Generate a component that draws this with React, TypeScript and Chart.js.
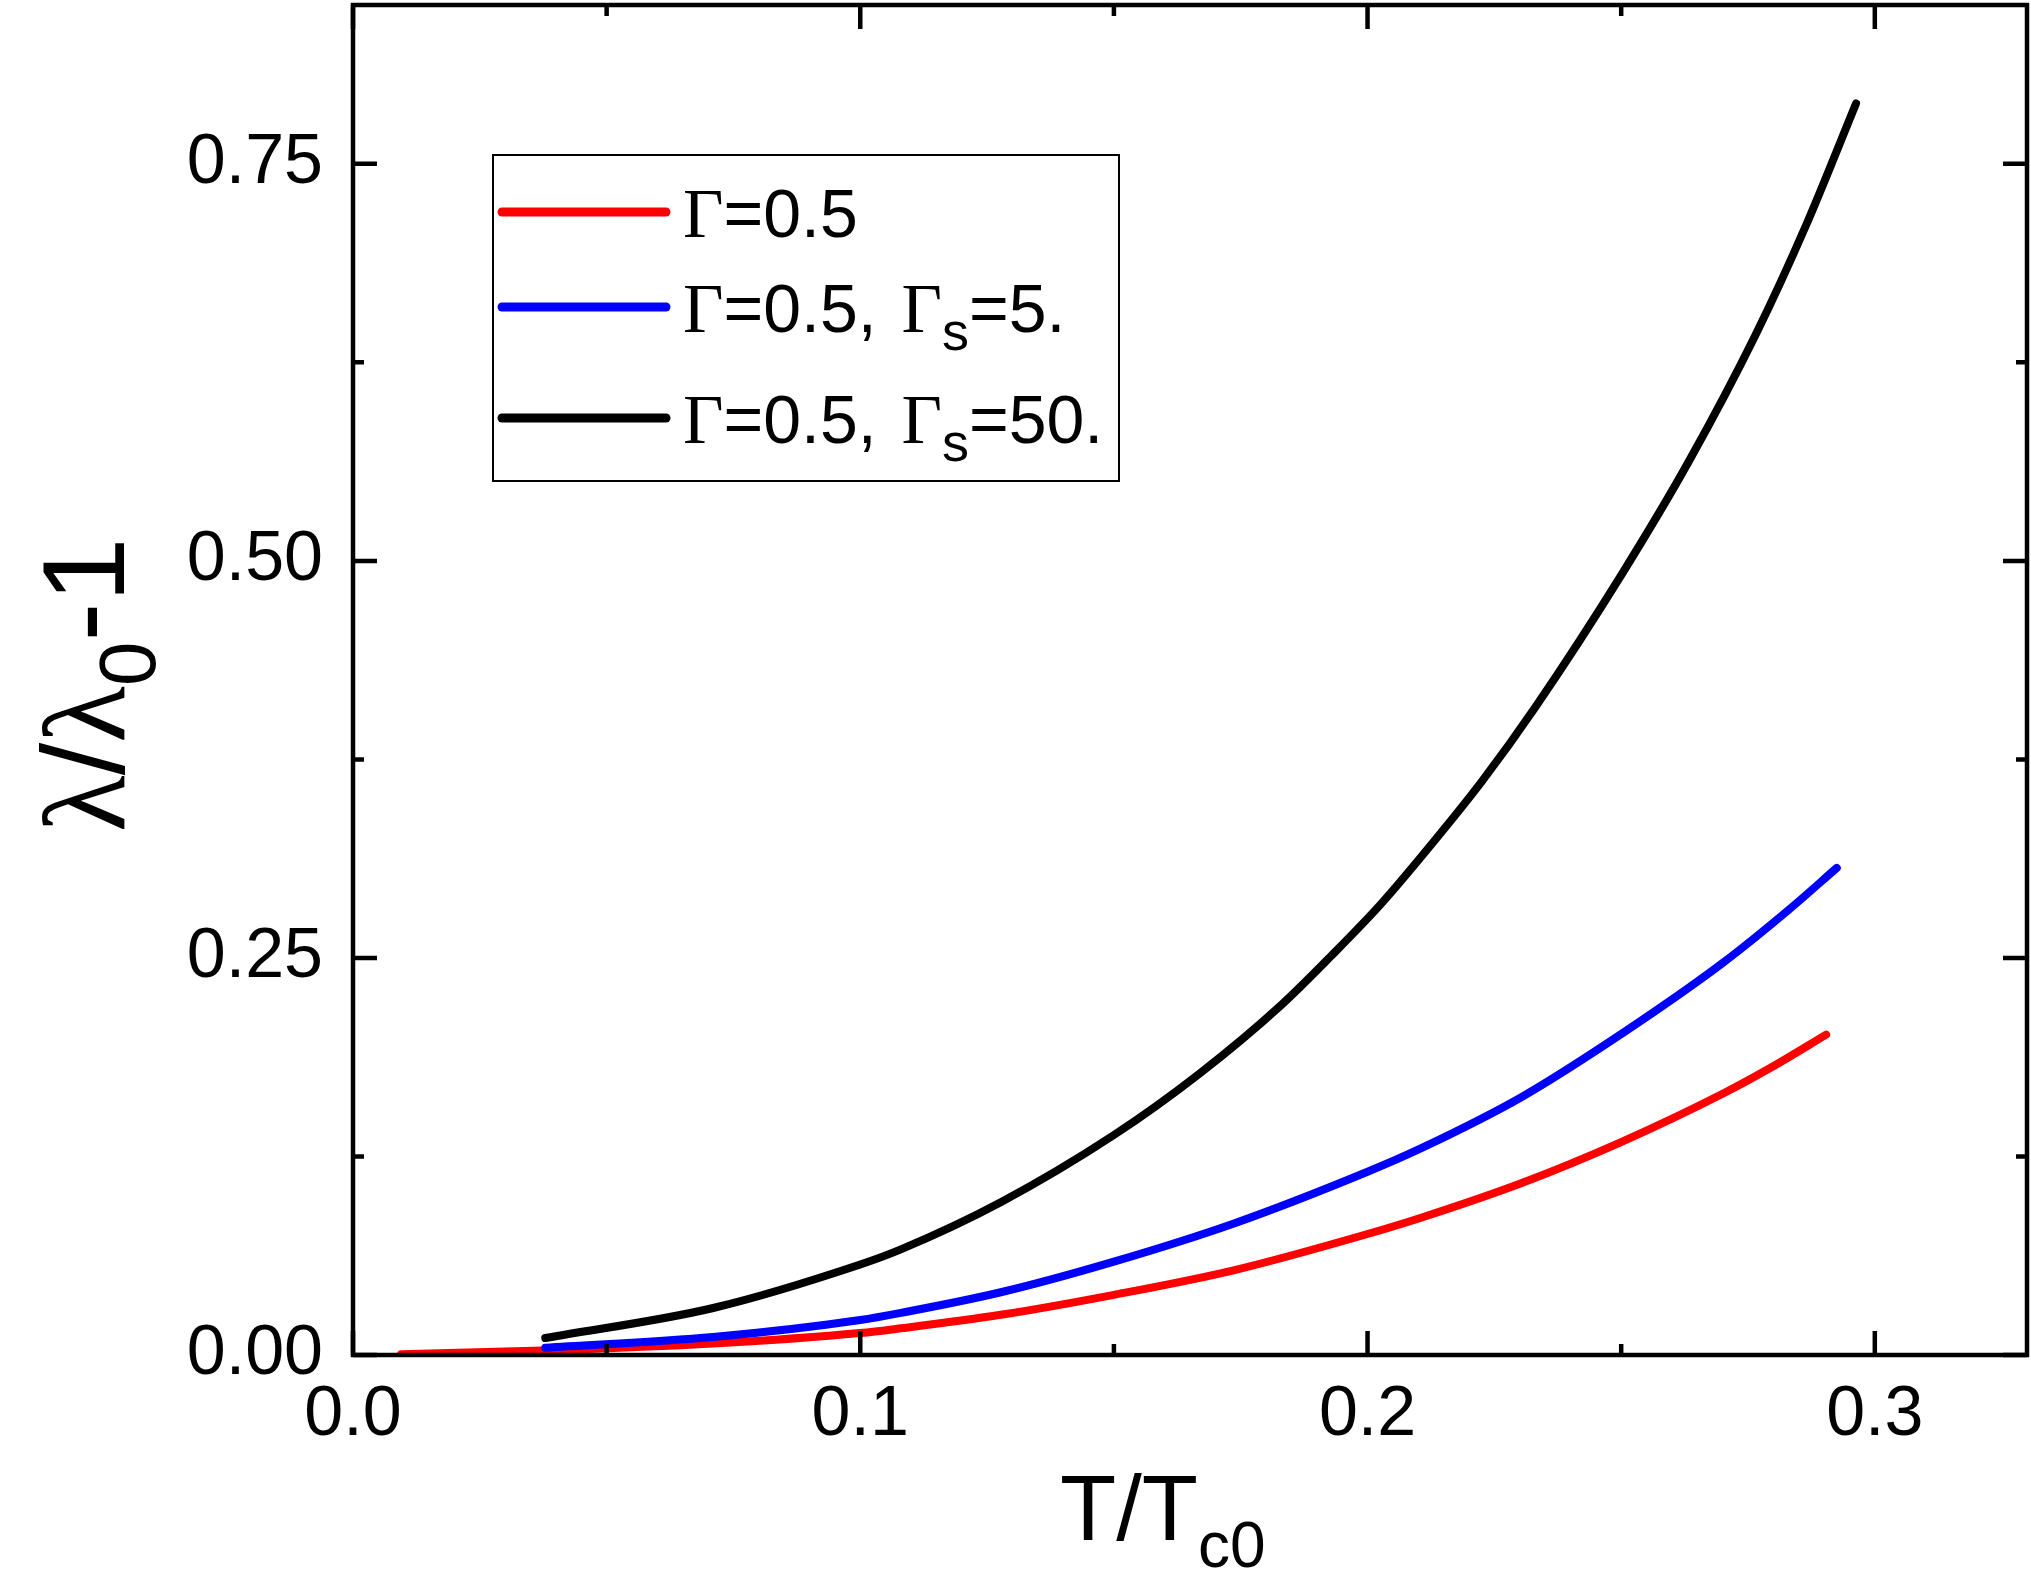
import React, { useEffect, useRef } from "react";
import { Chart, registerables } from "chart.js";

Chart.register(...registerables);

// ---- data ----
const redT = [0.0095, 0.0374, 0.071, 0.1, 0.108, 0.1277, 0.15, 0.1738, 0.2, 0.2107, 0.2304, 0.2502, 0.27, 0.2798, 0.2904];
const redV = [0.0005, 0.0028, 0.0072, 0.0138, 0.0168, 0.0253, 0.0379, 0.0535, 0.0762, 0.0866, 0.1083, 0.1344, 0.1645, 0.1815, 0.2017];

const blueT = [0.0379, 0.071, 0.1, 0.108, 0.1277, 0.15, 0.1738, 0.2, 0.2107, 0.2304, 0.2502, 0.27, 0.2831, 0.2925];
const blueV = [0.0046, 0.0113, 0.022, 0.0265, 0.0395, 0.0588, 0.083, 0.1154, 0.1304, 0.1625, 0.2025, 0.2468, 0.2805, 0.3067];

const blackT = [0.0379, 0.071, 0.1, 0.108, 0.1277, 0.15, 0.167, 0.183, 0.1929, 0.2028, 0.2126, 0.2225, 0.2331, 0.2502, 0.2634, 0.2766, 0.2864, 0.2963];
const blackV = [0.0107, 0.0296, 0.057, 0.0665, 0.0962, 0.1385, 0.1775, 0.2204, 0.2515, 0.2845, 0.3215, 0.361, 0.408, 0.492, 0.563, 0.643, 0.711, 0.788];

const seriesColors = ["#ff0000", "#0000ff", "#000000"];
const seriesLabels = ["Γ=0.5", "Γ=0.5, Γs=5.", "Γ=0.5, Γs=50."];
const gammaSValues = ["", "5.", "50."];

const xMajorTicks = [0, 0.1, 0.2, 0.3];
const xMinorTicks = [0.05, 0.15, 0.25];
const yMajorTicks = [0, 0.25, 0.5, 0.75];
const yMinorTicks = [0.125, 0.375, 0.625];

const X_MIN = 0;
const X_MAX = 0.33;
const Y_MIN = 0;
const Y_MAX = 0.85;

const SANS = '"Liberation Sans", Arial, sans-serif';
const SERIF = '"Liberation Serif", "Times New Roman", serif';

type Run = { t: string; size: number; serif?: boolean; dy?: number; gap?: number };

function drawRuns(ctx: CanvasRenderingContext2D, x: number, y: number, runs: Run[]) {
  let cx = x;
  for (const r of runs) {
    cx += r.gap || 0;
    ctx.font = `${r.size}px ${r.serif ? SERIF : SANS}`;
    ctx.fillText(r.t, cx, y + (r.dy || 0));
    cx += ctx.measureText(r.t).width;
  }
  return cx;
}

function pts(xs: number[], ys: number[]) {
  return xs.map((x, i) => ({ x, y: ys[i] }));
}

const decorPlugin = {
  id: "decor",
  afterDraw(chart: any) {
    const ctx: CanvasRenderingContext2D = chart.ctx;
    const { left, right, top, bottom } = chart.chartArea;
    const xs = chart.scales.x;
    const ys = chart.scales.y;
    ctx.save();
    ctx.strokeStyle = "#000";
    ctx.fillStyle = "#000";
    ctx.lineCap = "butt";

    // frame
    ctx.lineWidth = 4.5;
    ctx.strokeRect(left, top, right - left, bottom - top);

    // inward ticks
    const MAJ = 24;
    const MIN = 11;
    ctx.lineWidth = 4.5;
    const tickX = (v: number, len: number) => {
      const p = xs.getPixelForValue(v);
      ctx.beginPath();
      ctx.moveTo(p, bottom);
      ctx.lineTo(p, bottom - len);
      ctx.moveTo(p, top);
      ctx.lineTo(p, top + len);
      ctx.stroke();
    };
    const tickY = (v: number, len: number) => {
      const p = ys.getPixelForValue(v);
      ctx.beginPath();
      ctx.moveTo(left, p);
      ctx.lineTo(left + len, p);
      ctx.moveTo(right, p);
      ctx.lineTo(right - len, p);
      ctx.stroke();
    };
    xMajorTicks.forEach((v) => tickX(v, MAJ));
    xMinorTicks.forEach((v) => tickX(v, MIN));
    yMajorTicks.forEach((v) => tickY(v, MAJ));
    yMinorTicks.forEach((v) => tickY(v, MIN));

    // x axis title: T/T_c0
    ctx.textBaseline = "alphabetic";
    ctx.textAlign = "left";
    drawRuns(ctx, 1060, 1540, [
      { t: "T/T", size: 92 },
      { t: "c0", size: 64, dy: 27 },
    ]);

    // y axis title: λ/λ_0-1 (rotated)
    ctx.save();
    ctx.translate(124, 832);
    ctx.rotate(-Math.PI / 2);
    drawRuns(ctx, 0, 0, [
      { t: "λ", size: 117, serif: true },
      { t: "/", size: 117 },
      { t: "λ", size: 117, serif: true },
      { t: "0", size: 80, dy: 31 },
      { t: "-1", size: 117 },
    ]);
    ctx.restore();

    // legend
    const bx = 493, by = 155, bw = 626, bh = 326;
    ctx.fillStyle = "#fff";
    ctx.fillRect(bx, by, bw, bh);
    ctx.lineWidth = 2;
    ctx.strokeStyle = "#000";
    ctx.strokeRect(bx, by, bw, bh);
    const lineYs = [212, 307, 418];
    const baseYs = [237, 332, 443];
    ctx.lineCap = "round";
    ctx.lineWidth = 9;
    for (let i = 0; i < 3; i++) {
      ctx.strokeStyle = seriesColors[i];
      ctx.beginPath();
      ctx.moveTo(502, lineYs[i]);
      ctx.lineTo(666, lineYs[i]);
      ctx.stroke();
      ctx.fillStyle = "#000";
      const runs: Run[] = [
        { t: "Γ", size: 70, serif: true },
        { t: "=0.5", size: 68 },
      ];
      if (gammaSValues[i]) {
        runs.push({ t: ", ", size: 68 });
        runs.push({ t: "Γ", size: 70, serif: true, gap: 6 });
        runs.push({ t: "s", size: 54, dy: 18 });
        runs.push({ t: "=" + gammaSValues[i], size: 68 });
      }
      drawRuns(ctx, 683, baseYs[i], runs);
    }
    ctx.restore();
  },
};

export default function App() {
  const ref = useRef<HTMLCanvasElement | null>(null);
  useEffect(() => {
    if (!ref.current) return;
    const chart = new Chart(ref.current, {
      type: "line",
      data: {
        datasets: [
          { label: seriesLabels[0], data: pts(redT, redV), borderColor: seriesColors[0], order: 3 },
          { label: seriesLabels[1], data: pts(blueT, blueV), borderColor: seriesColors[1], order: 2 },
          { label: seriesLabels[2], data: pts(blackT, blackV), borderColor: seriesColors[2], order: 1 },
        ].map((d) => ({
          ...d,
          borderWidth: 8,
          pointRadius: 0,
          fill: false,
          cubicInterpolationMode: "monotone" as const,
          borderCapStyle: "round" as const,
          borderJoinStyle: "round" as const,
        })),
      },
      options: {
        animation: false,
        responsive: false,
        maintainAspectRatio: false,
        layout: { padding: { top: 5, right: 4, left: 0, bottom: 0 } },
        plugins: {
          legend: { display: false },
          tooltip: { enabled: false },
          title: { display: false },
        },
        scales: {
          x: {
            type: "linear",
            min: X_MIN,
            max: X_MAX,
            grid: { display: false, drawTicks: false },
            border: { display: false },
            ticks: {
              stepSize: 0.1,
              includeBounds: false,
              padding: 19,
              color: "#000",
              font: { family: SANS, size: 70 },
              maxRotation: 0,
              autoSkip: false,
              callback: (v: any) => Number(v).toFixed(1),
            },
            afterFit: (s: any) => {
              s.height = 225;
              s.paddingLeft = 0;
              s.paddingRight = 0;
            },
          },
          y: {
            type: "linear",
            min: Y_MIN,
            max: Y_MAX,
            grid: { display: false, drawTicks: false },
            border: { display: false },
            ticks: {
              stepSize: 0.25,
              includeBounds: false,
              padding: 30,
              color: "#000",
              font: { family: SANS, size: 70 },
              autoSkip: false,
              callback: (v: any) => Number(v).toFixed(2),
            },
            afterFit: (s: any) => {
              s.width = 353;
              s.paddingTop = 0;
              s.paddingBottom = 0;
            },
          },
        },
      },
      plugins: [decorPlugin],
    });
    return () => chart.destroy();
  }, []);
  return (
    <div style={{ position: "absolute", left: 0, top: 0, width: 2031, height: 1580, background: "#fff" }}>
      <canvas ref={ref} width={2031} height={1580} style={{ display: "block", width: 2031, height: 1580 }} />
    </div>
  );
}
